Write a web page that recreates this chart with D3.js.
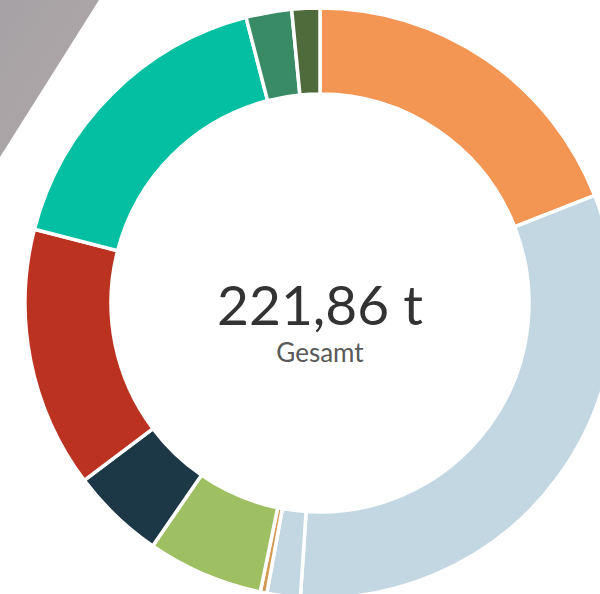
<!DOCTYPE html>
<html lang="de">
<head>
<meta charset="utf-8">
<title>Donut</title>
<script src="https://d3js.org/d3.v7.min.js"></script>
<style>
  html, body { margin: 0; padding: 0; background: #fff; }
</style>
</head>
<body>
<svg width="600" height="594"></svg>
<script>
    // Daten (Tonnen), im Uhrzeigersinn ab 12 Uhr
    var categories = ["Orange", "Hellblau", "Hellblau 2", "Braun", "Grün", "Dunkelblau", "Rot", "Türkis", "Dunkelgrün", "Oliv"];
    var values = [42.3, 71.0, 4.05, 0.8, 14.1, 11.4, 31.7, 37.6, 5.55, 3.4];
    var colors = ["#f39553", "#c3d7e3", "#c3d7e3", "#d39a52", "#9ebf62", "#1c3746", "#bc3220", "#04bfa1", "#388b65", "#4f6a3b"];
    var totalLabel = "221,86 t";
    var subLabel = "Gesamt";

    var svg = d3.select("svg");
    var cx = 320, cy = 303;

    // graues Dreieck oben links
    var grad = svg.append("defs").append("linearGradient")
        .attr("id", "bg").attr("x1", 0).attr("y1", 0).attr("x2", 1).attr("y2", 1);
    grad.append("stop").attr("offset", 0).attr("stop-color", "#a6a2a5");
    grad.append("stop").attr("offset", 1).attr("stop-color", "#afa7a7");
    svg.append("path")
        .attr("d", "M0,0 L99,0 L0,157 Z")
        .attr("fill", "url(#bg)");

    var pie = d3.pie().sort(null).value(function(d){ return d; });
    var arc = d3.arc().innerRadius(209).outerRadius(295);

    var g = svg.append("g")
        .attr("transform", "translate(" + cx + "," + cy + ")");

    g.selectAll("path.slice")
        .data(pie(values))
        .enter()
        .append("path")
        .attr("class", "slice")
        .attr("d", arc)
        .attr("fill", function(d, i){ return colors[i]; })
        .attr("stroke", "#fff")
        .attr("stroke-width", 3.5)
        .append("title")
        .text(function(d, i){ return categories[i] + ": " + d.data; });

    g.append("text")
        .attr("text-anchor", "middle")
        .attr("y", 22)
        .attr("font-family", "Lato, sans-serif")
        .attr("font-size", 55)
        .attr("fill", "#333")
        .text(totalLabel);

    g.append("text")
        .attr("text-anchor", "middle")
        .attr("y", 59)
        .attr("font-family", "Lato, sans-serif")
        .attr("font-size", 26)
        .attr("fill", "#595959")
        .text(subLabel);
</script>
</body>
</html>
